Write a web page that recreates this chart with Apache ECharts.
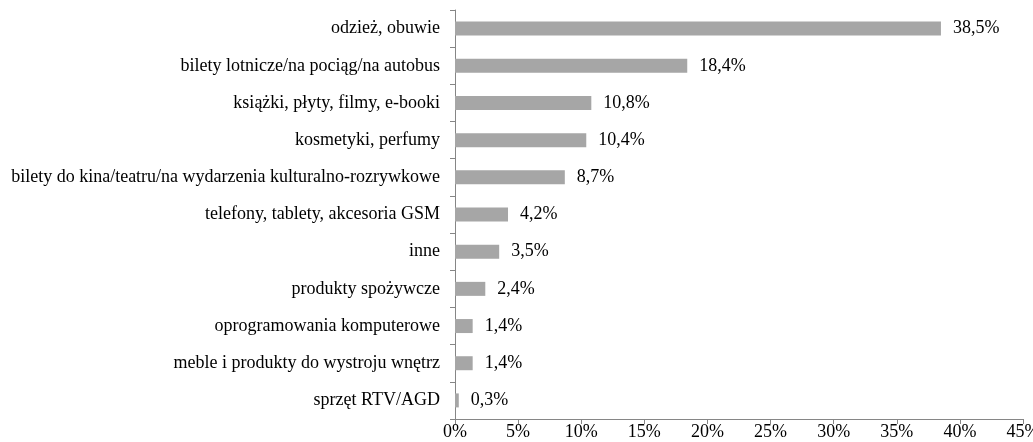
<!DOCTYPE html>
<html>
<head>
<meta charset="utf-8">
<script src="https://cdn.jsdelivr.net/npm/echarts@6/dist/echarts.min.js"></script>
<style>
    html, body { margin: 0; padding: 0; background: #fff; }
    #main { width: 1033px; height: 442px; }
</style>
</head>
<body>
<div id="main"></div>
<script>
// kategorie od góry do dołu
var categories = [
    'odzież, obuwie',
    'bilety lotnicze/na pociąg/na autobus',
    'książki, płyty, filmy, e-booki',
    'kosmetyki, perfumy',
    'bilety do kina/teatru/na wydarzenia kulturalno-rozrywkowe',
    'telefony, tablety, akcesoria GSM',
    'inne',
    'produkty spożywcze',
    'oprogramowania komputerowe',
    'meble i produkty do wystroju wnętrz',
    'sprzęt RTV/AGD'
];
var values = [38.5, 18.4, 10.8, 10.4, 8.7, 4.2, 3.5, 2.4, 1.4, 1.4, 0.3];
var xTicks = [0, 5, 10, 15, 20, 25, 30, 35, 40, 45];

var font = '"Liberation Serif", "Times New Roman", serif';
var axisColor = '#868686';

function fmt(v) {
    return v.toFixed(1).replace('.', ',') + '%';
}

var option = {
    animation: false,
    grid: { left: 455, right: 10, top: 10, bottom: 23, containLabel: false, outerBoundsMode: 'none' },
    xAxis: {
        type: 'value',
        min: xTicks[0],
        max: xTicks[xTicks.length - 1],
        interval: 5,
        splitLine: { show: false },
        axisLine: { show: true, lineStyle: { color: axisColor } },
        axisTick: { show: true, length: 5, lineStyle: { color: axisColor } },
        axisLabel: {
            color: '#000', fontFamily: font, fontSize: 18, margin: 4,
            formatter: function (v) { return v + '%'; }
        }
    },
    yAxis: {
        type: 'category',
        inverse: true,
        data: categories,
        axisLine: { show: true, lineStyle: { color: axisColor } },
        axisTick: { show: true, length: 5, alignWithLabel: false, lineStyle: { color: axisColor } },
        axisLabel: { color: '#000', fontFamily: font, fontSize: 18, margin: 15 }
    },
    series: [{
        type: 'bar',
        data: values,
        barWidth: 14,
        itemStyle: { color: '#a6a6a6' },
        label: {
            show: true,
            position: 'right',
            distance: 12,
            color: '#000',
            fontFamily: font,
            fontSize: 18,
            formatter: function (p) { return fmt(p.value); }
        }
    }]
};

var myChart = echarts.init(document.getElementById('main'));
myChart.setOption(option);
</script>
</body>
</html>
